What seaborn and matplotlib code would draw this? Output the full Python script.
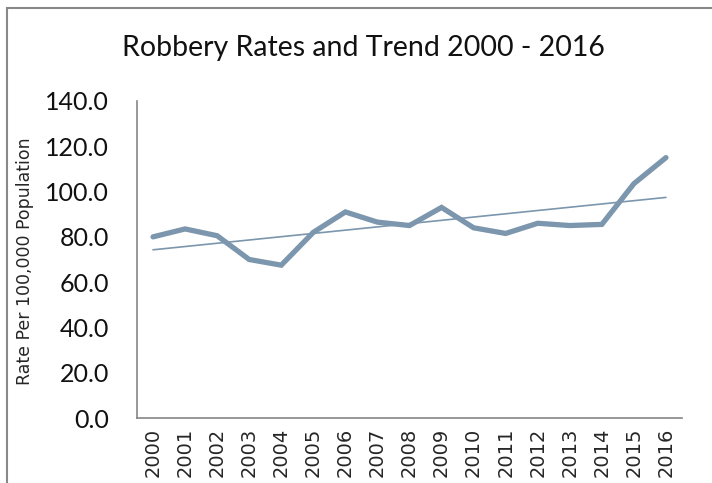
import numpy as np
import pandas as pd
import matplotlib
matplotlib.use("Agg")
import matplotlib.pyplot as plt
import seaborn as sns
from matplotlib.patches import Rectangle
from matplotlib.ticker import FixedLocator, FormatStrFormatter

# Values
years = list(range(2000, 2017))
rates = [80.0, 83.5, 80.5, 70.0, 67.5, 82.0, 91.0, 86.5, 85.0,
         93.0, 84.0, 81.5, 86.0, 85.0, 85.5, 103.5, 115.0]

df = pd.DataFrame({"year": years, "rate": rates})

sns.set_style("white")
line_color = "#7b96ad"
axis_color = "#868686"

fig = plt.figure(figsize=(7.12, 4.83), dpi=100)
ax = fig.add_axes([137 / 712, 1 - 418 / 483, (682 - 137) / 712, (418 - 101) / 483])

# actual rates
sns.lineplot(data=df, x="year", y="rate", ax=ax, color=line_color,
             linewidth=3.8, solid_capstyle="round", solid_joinstyle="miter")
# linear trend
sns.regplot(data=df, x="year", y="rate", ax=ax, scatter=False, ci=None,
            truncate=True, line_kws={"color": line_color, "linewidth": 1.2})

ax.set_xlim(years[0] - 0.5, years[-1] + 0.5)
ax.set_ylim(0, 140)
ax.set_yticks(np.arange(0, 141, 20))
ax.yaxis.set_major_formatter(FormatStrFormatter("%.1f"))

# labels at category centres, tick marks on category boundaries
ax.set_xticks(years)
ax.set_xticklabels([str(y) for y in years], rotation=90)
ax.xaxis.set_minor_locator(FixedLocator(np.arange(years[0] - 0.5, years[-1] + 1, 1)))
ax.tick_params(axis="x", which="major", length=0, pad=7)
ax.tick_params(axis="x", which="minor", length=6, width=1.2, color=axis_color, direction="out")
ax.tick_params(axis="y", length=6, width=1.2, color=axis_color, direction="out", pad=14)
for lab in ax.get_xticklabels():
    lab.set_fontsize(14)
    lab.set_family("DejaVu Sans")
for lab in ax.get_yticklabels():
    lab.set_fontsize(18)
    lab.set_family("Lato")
    lab.set_color("#111111")

for side in ["top", "right"]:
    ax.spines[side].set_visible(False)
for side in ["left", "bottom"]:
    ax.spines[side].set_color(axis_color)
    ax.spines[side].set_linewidth(1.2)

ax.set_xlabel("")
ax.set_ylabel("Rate Per 100,000 Population", fontsize=12.5, family="DejaVu Sans")
ax.yaxis.set_label_coords(-0.189, 0.495)

fig.text(363 / 712, 1 - 48 / 483, "Robbery Rates and Trend 2000 - 2016",
         ha="center", va="center", fontsize=20.5, family="Lato", color="#111111")

# outer frame around the chart area
fig.patches.append(Rectangle((7 / 712, -0.1), 1.2, 1 - 8 / 483 + 0.1,
                             transform=fig.transFigure, fill=False,
                             edgecolor="#888888", linewidth=1.5))

fig.savefig("out.png", dpi=100)
